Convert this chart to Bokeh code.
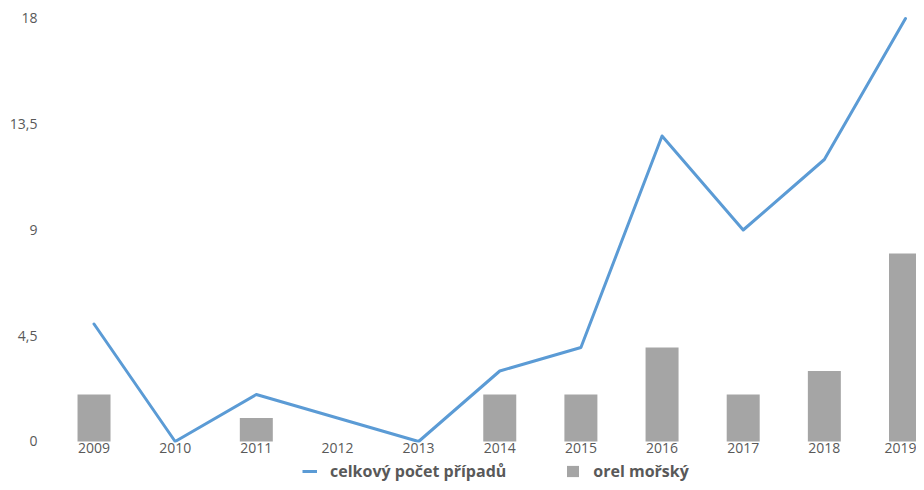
from bokeh.plotting import figure
from bokeh.models import Legend, LegendItem, FixedTicker, Range1d, ColumnDataSource
from bokeh.layouts import column
from bokeh.embed import file_html
from bokeh.resources import INLINE

years = [2009, 2010, 2011, 2012, 2013, 2014, 2015, 2016, 2017, 2018, 2019]
celkovy_pocet = [5, 0, 2, 1, 0, 3, 4, 13, 9, 12, 18]
orel_morsky = [2, 0, 1, 0, 0, 2, 2, 4, 2, 3, 8]
y_ticks = [0, 4.5, 9, 13.5, 18]
y_tick_labels = ["0", "4,5", "9", "13,5", "18"]

FONT = "Open Sans"
TXT = "#595959"
LINE_COLOR = "#5B9BD5"
BAR_COLOR = "#A5A5A5"

src = ColumnDataSource(dict(year=years, total=celkovy_pocet, orel=orel_morsky))

p = figure(width=916, height=460, output_backend="svg", toolbar_location=None,
           x_range=Range1d(2008.439, 2019.1356), y_range=Range1d(-0.0426, 18.17),
           min_border_left=48, min_border_right=0, min_border_top=14, min_border_bottom=18)
p.outline_line_color = None
p.grid.visible = False

p.vbar(x="year", top="orel", width=0.4066, bottom=0, source=src,
       fill_color=BAR_COLOR, line_color=None)
p.line(x="year", y="total", source=src, line_color=LINE_COLOR, line_width=3,
       line_join="round", line_cap="round")

p.xaxis.ticker = FixedTicker(ticks=years)
p.xaxis.major_label_overrides = {y: str(y) for y in years}
p.yaxis.ticker = FixedTicker(ticks=y_ticks)
p.yaxis.major_label_overrides = {t: l for t, l in zip(y_ticks, y_tick_labels)}
for ax in (p.xaxis[0], p.yaxis[0]):
    ax.axis_line_color = None
    ax.major_tick_line_color = None
    ax.minor_tick_line_color = None
    ax.major_tick_in = 0
    ax.major_tick_out = 0
    ax.minor_tick_in = 0
    ax.minor_tick_out = 0
    ax.major_label_text_font = FONT
    ax.major_label_text_font_size = "14px"
    ax.major_label_text_color = TXT
p.xaxis.major_label_standoff = 0
p.yaxis.major_label_standoff = 11

# legend strip (renderers outside its visible range, used only for legend glyphs)
lf = figure(width=916, height=22, output_backend="svg", toolbar_location=None,
            x_range=Range1d(0, 1), y_range=Range1d(0, 1),
            min_border_left=0, min_border_right=0, min_border_top=0, min_border_bottom=0)
lf.outline_line_color = None
lf.axis.visible = False
lf.grid.visible = False
lbar = lf.vbar(x="year", top="orel", width=0.4066, bottom=0, source=src,
               fill_color=BAR_COLOR, line_color=None)
lline = lf.line(x="year", y="total", source=src, line_color=LINE_COLOR, line_width=3)

legend = Legend(items=[LegendItem(label="celkový počet případů", renderers=[lline]),
                       LegendItem(label="orel mořský", renderers=[lbar])],
                orientation="horizontal", location=(254, 0),
                label_text_font=FONT, label_text_font_style="bold",
                label_text_font_size="16px", label_text_color=TXT,
                glyph_width=15, glyph_height=14, label_height=14,
                spacing=59, padding=0, margin=0, label_standoff=13,
                border_line_color=None, background_fill_alpha=0)
lf.add_layout(legend, "center")

layout = column(p, lf, spacing=0)
open("out.html", "w").write(file_html(layout, INLINE))
